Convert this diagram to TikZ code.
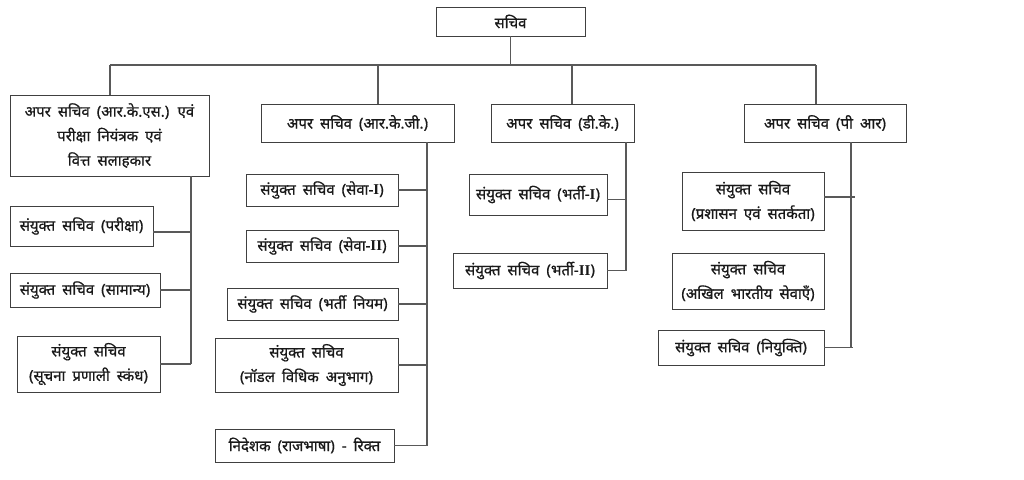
\documentclass[tikz,border=0pt]{standalone}
\usepackage{fontspec}
\newfontfamily\hindi[Script=Devanagari,WordSpace=1.8,FakeBold=0.7]{Noto Sans}
\newfontfamily\romfont{Liberation Serif}
\newcommand{\RN}[1]{{\romfont\bfseries #1}}
\begin{document}
\begin{tikzpicture}[x=1pt,y=-1pt,
  box/.style={draw=black!75,line width=0.9pt,inner sep=0pt,align=center,
    font=\hindi\fontsize{15}{24.5}\selectfont,text=black!90},
  link/.style={draw=black!65,line width=1.1pt}]
\useasboundingbox (0,0) rectangle (1024,479);
\fill[white] (0,0) rectangle (1024,479);
% top
\node[box,minimum width=149,minimum height=29] (s) at (510.5,21.5) {सचिव};
% level 1
\node[box,minimum width=199,minimum height=81] (rks) at (109.5,135.5)
  {अपर सचिव (आर.के.एस.) एवं\\परीक्षा नियंत्रक एवं\\वित्त सलाहकार};
\node[box,minimum width=193,minimum height=38] (rkg) at (357.5,123) {अपर सचिव (आर.के.जी.)};
\node[box,minimum width=143,minimum height=38] (dk) at (562.5,123) {अपर सचिव (डी.के.)};
\node[box,minimum width=162,minimum height=38] (pr) at (825,123) {अपर सचिव (पी आर)};
% RKS children
\node[box,minimum width=143,minimum height=40] (par) at (81.5,226) {संयुक्त सचिव (परीक्षा)};
\node[box,minimum width=150,minimum height=34] (sam) at (85,290) {संयुक्त सचिव (सामान्य)};
\node[box,minimum width=143,minimum height=56] (suc) at (88.5,364) {संयुक्त सचिव\\(सूचना प्रणाली स्कंध)};
% RKG children
\node[box,minimum width=152,minimum height=32] (se1) at (322,190) {संयुक्त सचिव (सेवा-\RN{I})};
\node[box,minimum width=152,minimum height=32] (se2) at (322,246) {संयुक्त सचिव (सेवा-\RN{II})};
\node[box,minimum width=171,minimum height=32] (bn) at (312.5,304) {संयुक्त सचिव (भर्ती नियम)};
\node[box,minimum width=183,minimum height=54] (nod) at (306.5,365) {संयुक्त सचिव\\(नॉडल विधिक अनुभाग)};
\node[box,minimum width=179,minimum height=33] (nid) at (304.5,445.5) {निदेशक (राजभाषा) - रिक्त};
% DK children
\node[box,minimum width=138,minimum height=41] (b1) at (538,194.5) {संयुक्त सचिव (भर्ती-\RN{I})};
\node[box,minimum width=154,minimum height=35] (b2) at (530,270.5) {संयुक्त सचिव (भर्ती-\RN{II})};
% PR children
\node[box,minimum width=142,minimum height=58] (pra) at (753,201) {संयुक्त सचिव\\(प्रशासन एवं सतर्कता)};
\node[box,minimum width=152,minimum height=56] (akh) at (748,281) {संयुक्त सचिव\\(अखिल भारतीय सेवाएँ)};
\node[box,minimum width=166,minimum height=35] (niy) at (741,347.5) {संयुक्त सचिव (नियुक्ति)};
% bus coordinates
\coordinate (h0) at (510.5,65);
\coordinate (c1) at (110,65);
\coordinate (c2) at (378,65);
\coordinate (c3) at (572,65);
\coordinate (c4) at (816,65);
\coordinate (t1) at (191,0);
\coordinate (t2) at (427,0);
\coordinate (t3) at (626,0);
\coordinate (t4) at (851,0);
% top connectors
\draw[link] (s.south) -- (h0);
\draw[link] (c1) -- (c4);
\draw[link] (c1) -- (c1 |- rks.north);
\draw[link] (c2) -- (c2 |- rkg.north);
\draw[link] (c3) -- (c3 |- dk.north);
\draw[link] (c4) -- (c4 |- pr.north);
% RKS branch
\draw[link] (t1 |- rks.south) -- (t1 |- suc.east);
\draw[link] ([yshift=-6]par.east) -- ([yshift=-6]par.east -| t1);
\draw[link] (sam.east) -- (sam.east -| t1);
\draw[link] (suc.east) -- (suc.east -| t1);
% RKG branch
\draw[link] (t2 |- rkg.south) -- (t2 |- nid.east);
\draw[link] (se1.east) -- (se1.east -| t2);
\draw[link] (se2.east) -- (se2.east -| t2);
\draw[link] (bn.east) -- (bn.east -| t2);
\draw[link] (nod.east) -- (nod.east -| t2);
\draw[link] (nid.east) -- (nid.east -| t2);
% DK branch
\draw[link] (t3 |- dk.south) -- (t3 |- b2.east);
\draw[link] ([yshift=-5]b1.east) -- ([yshift=-5]b1.east -| t3);
\draw[link] (b2.east) -- (b2.east -| t3);
% PR branch
\draw[link] (t4 |- pr.south) -- (t4 |- niy.east);
\draw[link] ([yshift=4]pra.east) -- ([xshift=4,yshift=4]pra.east -| t4);
\draw[link] (niy.east) -- ([xshift=2]niy.east -| t4);
\end{tikzpicture}
\end{document}
